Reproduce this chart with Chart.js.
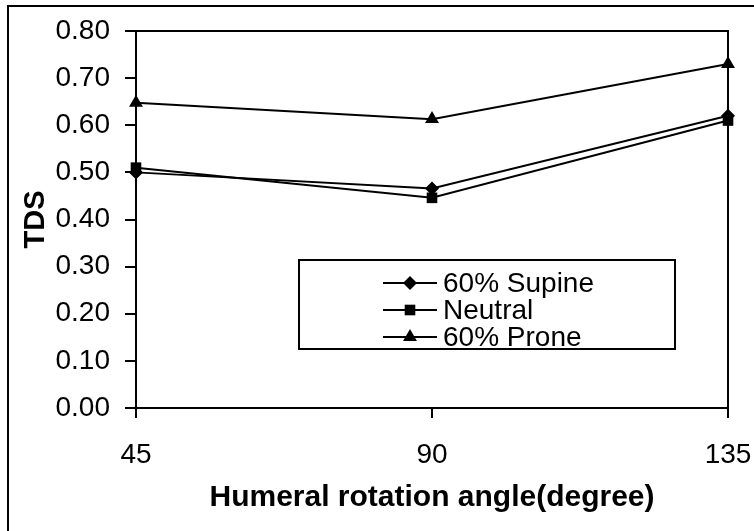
<!DOCTYPE html>
<html>
<head>
<meta charset="utf-8">
<script src="https://cdn.jsdelivr.net/npm/chart.js@4.4.1/dist/chart.umd.min.js"></script>
<style>
  html, body { margin: 0; padding: 0; background: #fff; }
  #wrap { width: 754px; height: 531px; position: relative; }
</style>
</head>
<body>
<div id="wrap"><canvas id="c" width="754" height="531"></canvas></div>
<script>
// ---- data ----
const categories = ['45', '90', '135'];
const supine = [0.50, 0.466, 0.62];
const neutral = [0.51, 0.446, 0.61];
const prone = [0.648, 0.613, 0.73];
const seriesLabels = ['60% Supine', 'Neutral', '60% Prone'];
const yMin = 0, yMax = 0.8, yStep = 0.1;
const xTitle = 'Humeral rotation angle(degree)';
const yTitle = 'TDS';

const FONT = '"Liberation Sans", Arial, sans-serif';
const styles = ['rectRot', 'rect', 'triangle'];
const radii = [7, 7.5, 8];

function drawMarker(ctx, style, r, x, y) {
  ctx.beginPath();
  if (style === 'rectRot') {
    ctx.moveTo(x, y - r); ctx.lineTo(x + r, y); ctx.lineTo(x, y + r); ctx.lineTo(x - r, y);
  } else if (style === 'rect') {
    const s = r * Math.SQRT1_2;
    ctx.rect(x - s, y - s, 2 * s, 2 * s);
  } else {
    ctx.moveTo(x, y - r);
    ctx.lineTo(x + r * Math.sin(Math.PI * 2 / 3), y - r * Math.cos(Math.PI * 2 / 3));
    ctx.lineTo(x - r * Math.sin(Math.PI * 2 / 3), y - r * Math.cos(Math.PI * 2 / 3));
  }
  ctx.closePath();
  ctx.fill();
}

const framePlugin = {
  id: 'frame',
  beforeDatasetsDraw(chart) {
    const {ctx, chartArea: a} = chart;
    ctx.save();
    ctx.strokeStyle = '#000';
    ctx.lineWidth = 2;
    ctx.beginPath();
    ctx.moveTo(a.left, a.top);
    ctx.lineTo(a.right, a.top);
    ctx.lineTo(a.right, a.bottom);
    ctx.stroke();
    // outer border
    ctx.beginPath();
    ctx.moveTo(8, 531);
    ctx.lineTo(8, 6);
    ctx.lineTo(754, 6);
    ctx.stroke();
    ctx.restore();
  },
  afterDatasetsDraw(chart) {
    const {ctx} = chart;
    ctx.save();
    ctx.fillStyle = '#fff';
    ctx.fillRect(299, 260, 376, 89);
    ctx.strokeStyle = '#000';
    ctx.lineWidth = 2;
    ctx.strokeRect(299, 260, 376, 89);
    ctx.font = '28px ' + FONT;
    ctx.textBaseline = 'middle';
    ctx.textAlign = 'left';
    chart.data.datasets.forEach((ds, i) => {
      const y = 283 + 27 * i;
      ctx.beginPath();
      ctx.moveTo(383, y); ctx.lineTo(437, y);
      ctx.stroke();
      ctx.fillStyle = '#000';
      drawMarker(ctx, ds.pointStyle, ds.pointRadius, 410, y);
      ctx.fillText(ds.label, 443, y + 1);
    });
    ctx.restore();
  }
};

const seriesData = [supine, neutral, prone];
const datasets = seriesData.map((d, i) => ({
  label: seriesLabels[i],
  data: d,
  borderColor: '#000',
  backgroundColor: '#000',
  borderWidth: 2,
  pointStyle: styles[i],
  pointRadius: radii[i],
  pointBorderWidth: 0,
  pointBackgroundColor: '#000',
  pointBorderColor: '#000',
  tension: 0,
  clip: false
}));

new Chart(document.getElementById('c'), {
  type: 'line',
  data: { labels: categories, datasets },
  options: {
    responsive: false,
    animation: false,
    devicePixelRatio: 1,
    layout: { padding: { left: 0, top: 31, right: 26, bottom: 0 } },
    plugins: { legend: { display: false }, tooltip: { enabled: false } },
    scales: {
      x: {
        offset: false,
        grid: { drawOnChartArea: false, drawTicks: true, tickLength: 10, color: '#000', lineWidth: 2 },
        border: { display: true, color: '#000', width: 2 },
        ticks: { color: '#000', padding: 23, font: { family: FONT, size: 28, lineHeight: 1 }, maxRotation: 0 },
        title: { display: true, text: xTitle, color: '#000', font: { family: FONT, size: 30, weight: 'bold', lineHeight: 1 }, padding: { top: 0, bottom: 18 } },
        afterFit(scale) { scale.height = 123; scale.paddingRight = 0; scale.paddingLeft = 0; }
      },
      y: {
        min: yMin, max: yMax,
        grid: { drawOnChartArea: false, drawTicks: true, tickLength: 11, color: '#000', lineWidth: 2 },
        border: { display: true, color: '#000', width: 2 },
        ticks: { stepSize: yStep, color: '#000', padding: 15, font: { family: FONT, size: 28, lineHeight: 1 },
                 callback: v => Number(v).toFixed(2) },
        title: { display: true, text: yTitle, color: '#000', font: { family: FONT, size: 29, weight: 'bold', lineHeight: 1 }, padding: { top: 21, bottom: 0 } },
        afterFit(scale) { scale.width = 136; }
      }
    }
  },
  plugins: [framePlugin]
});
</script>
</body>
</html>
